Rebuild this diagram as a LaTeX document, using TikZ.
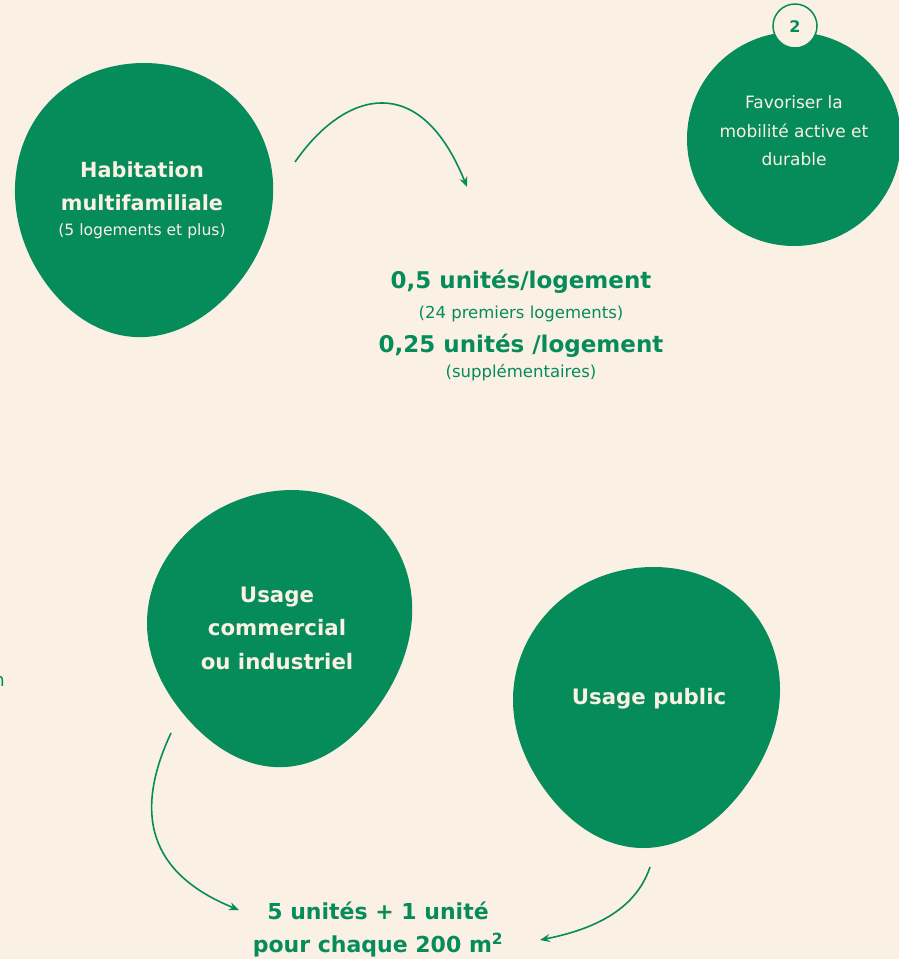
\documentclass[tikz,border=0pt]{standalone}
\usepackage{fontspec}
\setmainfont{DejaVu Sans}
\usetikzlibrary{arrows.meta, hobby}
\definecolor{vert}{RGB}{5,140,90}
\definecolor{creme}{RGB}{250,240,228}

\begin{document}
\begin{tikzpicture}[x=1pt, y=-1pt,
    blob/.style={fill=vert, draw=none},
    titre/.style={anchor=base, inner sep=0pt, text=creme, font=\bfseries\fontsize{20.8}{25}\selectfont},
    sous/.style={anchor=base, inner sep=0pt, text=creme, font=\fontsize{15.6}{19}\selectfont},
    valeur/.style={anchor=base, inner sep=0pt, text=vert, font=\bfseries\fontsize{23}{27}\selectfont},
    detail/.style={anchor=base, inner sep=0pt, text=vert, font=\fontsize{16.5}{20}\selectfont},
    fleche/.style={draw=vert, line width=1.6pt, -{Stealth[length=10pt, width=8pt, inset=3.5pt]}}]
    \useasboundingbox (0,0) rectangle (899,959);
    \fill[creme] (0,0) rectangle (899,959);
    \clip (0,0) rectangle (899,959);

    \fill[blob] plot[closed hobby] coordinates {(143,63) (228,92) (273,182) (228,295) (135,337) (45,282) (15,195) (48,103)};
    \fill[blob] plot[closed hobby] coordinates {(268,492) (368,515) (412,602) (377,708) (285,767) (186,717) (147,625) (180,540)};
    \fill[blob] plot[closed hobby] coordinates {(653,567) (742,600) (780,690) (745,787) (643,848) (545,790) (513,700) (548,612)};
    \fill[blob] (794,139) circle (107);
    \draw[draw=vert, fill=creme, line width=1.5pt] (795,26) circle (22);

    \node[anchor=base, inner sep=0pt, text=vert, font=\bfseries\fontsize{16}{19}\selectfont] (n2) at (795,32) {2};
    \node[sous, font=\fontsize{17}{20}\selectfont] (m1) at (794,108) {Favoriser la};
    \node[sous, font=\fontsize{17}{20}\selectfont] (m2) at (794,137) {mobilité active et};
    \node[sous, font=\fontsize{17}{20}\selectfont] (m3) at (794,165) {durable};

    \node[titre] (h1) at (142,177) {Habitation};
    \node[titre] (h2) at (142,210) {multifamiliale};
    \node[sous] (h3) at (142,235) {(5 logements et plus)};

    \node[valeur] (v1) at (521,288) {0,5 unités/logement};
    \node[detail] (v2) at (521,318) {(24 premiers logements)};
    \node[valeur] (v3) at (521,352) {0,25 unités /logement};
    \node[detail] (v4) at (521,377) {(supplémentaires)};

    \node[titre, font=\bfseries\fontsize{21.3}{25}\selectfont] (c1) at (277,602) {Usage};
    \node[titre, font=\bfseries\fontsize{21.3}{25}\selectfont] (c2) at (277,635) {commercial};
    \node[titre, font=\bfseries\fontsize{21.3}{25}\selectfont] (c3) at (277,669) {ou industriel};

    \node[titre, font=\bfseries\fontsize{21.3}{25}\selectfont] (p1) at (649,704) {Usage public};

    \node[valeur, font=\bfseries\fontsize{22}{26}\selectfont] (b1) at (378,919) {5 unités + 1 unité};
    \node[valeur, font=\bfseries\fontsize{22}{26}\selectfont] (b2) at (378,952) {pour chaque 200 m\textsuperscript{2}};

    \node[detail, anchor=base east, font=\fontsize{18}{22}\selectfont] (n0) at (5,686) {n};

    \coordinate (a0) at (295,162);
    \coordinate (a1) at (467,187);
    \coordinate (a2) at (171,733);
    \coordinate (a3) at (239,910);
    \coordinate (a4) at (650,867);
    \coordinate (a5) at (540,940);
    \draw[fleche] (a0) .. controls (345,90) and (420,70) .. (a1);
    \draw[fleche] (a2) .. controls (128,825) and (160,878) .. (a3);
    \draw[fleche] (a4) .. controls (635,912) and (590,930) .. (a5);
\end{tikzpicture}
\end{document}
